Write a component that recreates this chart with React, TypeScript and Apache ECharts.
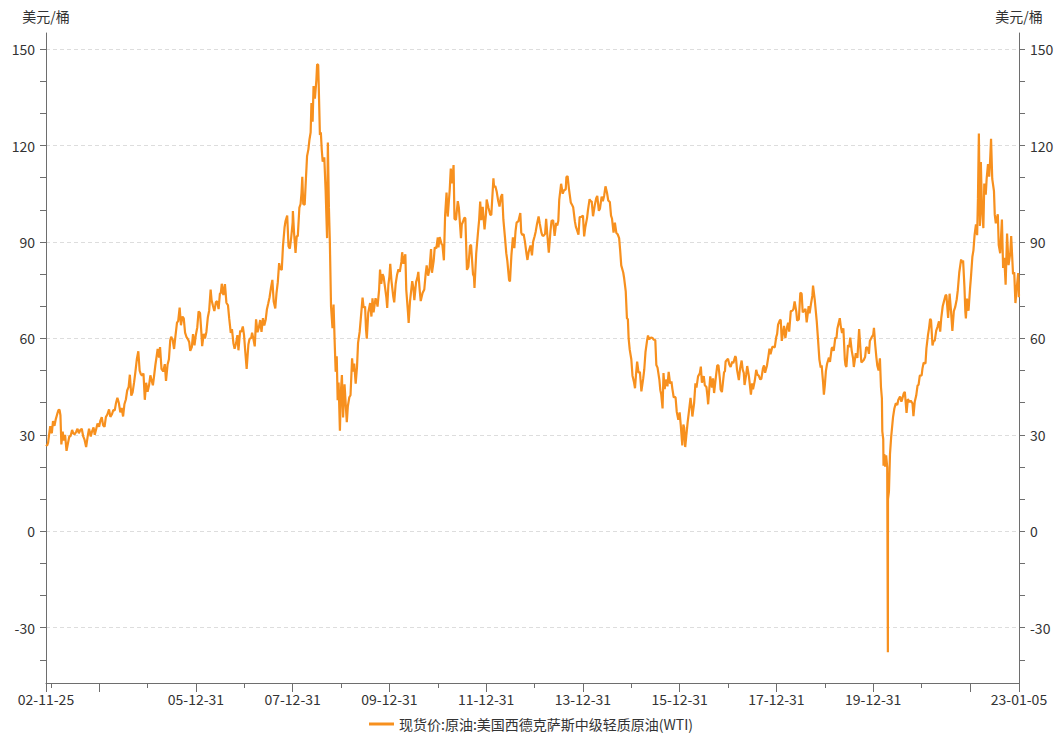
import React, { useEffect, useRef } from 'react';
import * as echarts from 'echarts';

// ---------- data (WTI spot, USD/bbl) ----------
const seriesName = '现货价:原油:美国西德克萨斯中级轻质原油(WTI)';

const wti2002: [string, number][] = [["11-25",26.9],["12-03",26.6],["12-11",27.6],["12-18",29.9],["12-27",32.7],["12-31",31.2]];
const wti2003: [string, number][] = [["01-08",30.5],["01-17",34.3],["01-28",32.8],["02-07",34.9],["02-18",36.5],["02-27",37.7],["03-07",37.8],["03-14",36.1],["03-21",27.0],["03-31",31.0],["04-08",28.2],["04-18",30.0],["04-29",25.0],["05-09",27.2],["05-20",29.5],["05-30",29.6],["06-10",31.5],["06-20",30.4],["06-30",30.2],["07-10",30.9],["07-21",31.9],["07-31",30.5],["08-11",31.5],["08-22",31.9],["09-02",29.5],["09-12",28.5],["09-24",26.2],["10-06",29.6],["10-16",31.9],["10-29",29.5],["11-07",31.0],["11-19",32.3],["11-28",30.0],["12-10",32.0],["12-19",33.5],["12-31",32.5]];
const wti2004: [string, number][] = [["01-09",34.3],["01-20",35.5],["01-30",33.0],["02-10",32.5],["02-20",35.5],["03-02",36.3],["03-15",37.9],["03-25",35.6],["04-06",36.4],["04-16",37.7],["04-27",37.6],["05-07",40.0],["05-17",41.5],["05-28",39.9],["06-08",37.0],["06-18",38.4],["06-29",35.7],["07-09",39.5],["07-20",41.0],["07-30",43.8],["08-10",44.9],["08-19",48.7],["08-30",42.2],["09-09",43.2],["09-20",46.3],["09-30",49.6],["10-11",53.6],["10-22",56.0],["11-01",50.0],["11-10",48.9],["11-19",48.4],["11-30",49.1],["12-10",40.9],["12-20",46.2],["12-31",43.4]];
const wti2005: [string, number][] = [["01-11",45.4],["01-21",48.5],["01-31",46.8],["02-09",45.4],["02-18",48.3],["02-28",51.8],["03-10",54.6],["03-17",56.7],["03-28",54.0],["04-04",57.3],["04-15",50.5],["04-28",49.7],["05-10",52.0],["05-19",46.8],["05-31",51.9],["06-10",53.5],["06-20",59.4],["06-27",60.5],["07-08",59.6],["07-19",56.7],["07-29",60.6],["08-10",64.9],["08-19",65.4],["08-30",69.6],["09-09",64.1],["09-20",66.8],["09-30",66.2],["10-10",61.8],["10-20",60.5],["10-31",59.8],["11-10",58.9],["11-18",56.1],["11-30",57.3],["12-09",61.3],["12-20",57.8],["12-30",61.0]];
const wti2006: [string, number][] = [["01-10",63.4],["01-20",68.4],["01-31",67.9],["02-10",61.8],["02-16",57.6],["02-28",61.4],["03-09",60.0],["03-20",62.0],["03-31",66.6],["04-10",68.7],["04-21",75.2],["04-28",71.9],["05-09",70.1],["05-19",68.5],["05-31",71.3],["06-09",71.6],["06-20",69.1],["06-30",73.9],["07-07",74.1],["07-14",77.0],["07-26",73.5],["08-07",76.9],["08-18",71.1],["08-30",70.3],["09-08",66.3],["09-20",61.7],["09-29",62.9],["10-10",58.5],["10-19",56.8],["10-31",58.7],["11-09",61.0],["11-17",56.3],["11-30",62.4],["12-08",62.0],["12-20",63.7],["12-29",61.1]];
const wti2007: [string, number][] = [["01-08",55.6],["01-18",50.5],["01-31",58.1],["02-09",59.9],["02-21",60.1],["02-28",61.8],["03-09",60.0],["03-20",57.5],["03-30",65.9],["04-10",61.9],["04-20",63.4],["04-30",65.7],["05-10",62.0],["05-21",66.3],["05-31",64.0],["06-11",65.9],["06-20",69.1],["06-29",70.7],["07-10",72.8],["07-20",75.6],["07-31",78.2],["08-10",71.5],["08-22",69.3],["08-31",74.0],["09-10",77.5],["09-20",83.4],["09-28",81.7],["10-10",81.3],["10-19",88.6],["10-31",94.5],["11-07",96.4],["11-20",98.2],["11-30",88.7],["12-10",87.9],["12-20",91.3],["12-31",96.0]];
const wti2008: [string, number][] = [["01-02",99.6],["01-11",92.7],["01-22",86.6],["01-31",91.8],["02-08",91.8],["02-20",100.7],["02-29",101.8],["03-07",105.2],["03-13",110.3],["03-20",101.8],["03-31",101.6],["04-08",108.5],["04-18",116.7],["04-28",118.8],["05-06",121.8],["05-15",124.1],["05-21",133.2],["05-30",127.4],["06-06",138.5],["06-16",134.6],["06-27",140.2],["07-03",145.3],["07-11",145.1],["07-15",138.7],["07-24",123.3],["07-31",124.1],["08-07",118.6],["08-14",115.0],["08-26",116.3],["09-05",106.2],["09-16",91.2],["09-22",120.9],["09-30",100.6],["10-07",90.1],["10-16",69.9],["10-27",63.2],["11-04",70.5],["11-13",58.2],["11-20",49.6],["11-28",54.4],["12-05",40.8],["12-12",46.3],["12-22",31.3],["12-26",37.7],["12-31",44.6]];
const wti2009: [string, number][] = [["01-06",48.6],["01-15",35.4],["01-26",45.7],["02-03",40.1],["02-12",33.9],["02-20",38.9],["03-03",41.7],["03-12",42.3],["03-24",53.8],["03-31",49.7],["04-09",52.2],["04-20",45.9],["04-30",51.1],["05-08",58.6],["05-20",62.0],["05-29",66.3],["06-11",72.7],["06-19",69.6],["06-30",69.9],["07-07",62.9],["07-13",59.9],["07-24",68.0],["07-31",69.5],["08-07",71.0],["08-17",66.8],["08-25",72.5],["09-02",68.1],["09-17",72.5],["09-30",70.5],["10-02",69.9],["10-14",75.2],["10-21",81.4],["10-30",77.0],["11-09",80.0],["11-17",79.1],["11-27",76.1],["12-08",72.6],["12-14",69.5],["12-23",76.7],["12-31",79.4]];
const wti2010: [string, number][] = [["01-06",83.2],["01-15",78.0],["01-29",72.9],["02-05",71.2],["02-16",77.0],["02-26",79.7],["03-09",81.5],["03-19",80.7],["03-31",83.8],["04-06",86.8],["04-16",83.2],["04-30",86.2],["05-07",75.1],["05-20",68.0],["05-25",64.8],["06-04",71.5],["06-21",77.8],["06-30",75.6],["07-07",71.9],["07-20",77.5],["07-30",78.9],["08-06",80.7],["08-16",75.2],["08-24",71.6],["09-07",74.1],["09-20",75.2],["09-30",79.9],["10-08",82.7],["10-19",79.5],["10-29",81.4],["11-10",87.8],["11-17",80.4],["11-30",84.1],["12-08",88.3],["12-20",88.0],["12-31",91.4]];
const wti2011: [string, number][] = [["01-05",88.3],["01-14",91.5],["01-28",89.4],["02-04",89.0],["02-15",84.3],["02-24",98.1],["03-07",105.4],["03-16",97.9],["03-31",106.2],["04-08",112.8],["04-19",108.2],["04-29",113.9],["05-06",97.2],["05-17",96.9],["05-31",102.7],["06-08",100.7],["06-24",91.2],["06-30",95.4],["07-08",96.2],["07-19",97.5],["07-27",97.4],["08-08",81.3],["08-19",82.3],["08-31",88.8],["09-08",89.1],["09-23",79.9],["09-30",79.2],["10-04",75.7],["10-17",86.4],["10-31",93.2],["11-08",96.8],["11-16",102.6],["11-25",96.8],["12-05",100.9],["12-19",93.9],["12-30",98.8]];
const wti2012: [string, number][] = [["01-04",103.2],["01-17",100.7],["01-31",98.5],["02-08",98.4],["02-24",109.8],["02-29",107.1],["03-09",107.4],["03-20",105.6],["03-30",103.0],["04-10",101.0],["04-20",103.9],["04-30",104.9],["05-09",97.0],["05-21",91.5],["05-31",86.5],["06-08",84.1],["06-21",78.2],["06-28",77.7],["07-09",86.0],["07-20",91.4],["07-31",88.1],["08-09",93.4],["08-17",96.0],["08-31",96.5],["09-14",99.0],["09-21",92.9],["09-28",92.2],["10-09",92.4],["10-19",90.1],["10-31",86.2],["11-07",84.4],["11-16",86.9],["11-30",88.9],["12-11",85.8],["12-20",90.1],["12-31",91.8]];
const wti2013: [string, number][] = [["01-08",93.2],["01-18",95.6],["01-30",97.9],["02-08",95.7],["02-21",92.8],["02-28",92.0],["03-08",91.9],["03-20",92.5],["03-28",97.2],["04-05",92.7],["04-17",86.7],["04-30",93.5],["05-08",96.6],["05-20",96.7],["05-31",91.9],["06-12",95.9],["06-20",95.1],["06-28",96.6],["07-05",103.2],["07-19",108.1],["07-31",105.0],["08-09",106.0],["08-23",106.4],["08-28",110.2],["09-06",110.5],["09-16",106.6],["09-30",102.3],["10-09",101.6],["10-18",100.8],["10-31",96.4],["11-08",94.6],["11-15",93.8],["11-27",92.3],["12-06",97.7],["12-18",97.8],["12-31",98.2]];
const wti2014: [string, number][] = [["01-09",91.7],["01-17",94.4],["01-31",97.5],["02-07",100.0],["02-19",103.3],["02-28",102.6],["03-07",102.6],["03-17",98.0],["03-31",101.6],["04-10",103.6],["04-18",104.3],["04-30",99.7],["05-08",100.3],["05-21",104.1],["05-30",102.7],["06-09",104.4],["06-19",107.3],["06-30",105.4],["07-10",102.9],["07-22",102.4],["07-31",98.2],["08-07",97.3],["08-19",92.9],["08-29",96.0],["09-09",92.8],["09-19",92.4],["09-30",91.2],["10-08",87.3],["10-16",82.7],["10-31",80.5],["11-07",78.7],["11-19",74.6],["11-28",66.2],["12-05",66.0],["12-11",59.9],["12-19",56.5],["12-31",53.5]];
const wti2015: [string, number][] = [["01-09",48.4],["01-20",46.4],["01-28",44.5],["02-04",48.5],["02-13",52.8],["02-24",49.3],["03-06",49.6],["03-17",43.5],["03-31",47.6],["04-08",50.4],["04-17",55.7],["04-30",59.6],["05-06",60.9],["05-15",59.7],["05-29",60.3],["06-09",60.1],["06-19",59.6],["06-30",59.5],["07-08",51.7],["07-17",50.9],["07-31",47.1],["08-07",43.9],["08-14",42.5],["08-24",38.2],["08-31",49.2],["09-09",44.2],["09-17",47.2],["09-30",45.1],["10-09",49.6],["10-20",45.9],["10-30",46.6],["11-06",44.3],["11-16",41.7],["11-30",41.7],["12-09",37.2],["12-21",34.7],["12-31",37.0]];
const wti2016: [string, number][] = [["01-08",33.2],["01-20",26.7],["01-28",33.2],["02-03",32.3],["02-11",26.2],["02-19",29.6],["02-29",33.8],["03-08",36.5],["03-22",41.5],["03-31",38.3],["04-05",35.7],["04-18",39.8],["04-28",46.0],["05-06",44.7],["05-18",48.2],["05-31",49.1],["06-08",51.2],["06-16",46.2],["06-30",48.3],["07-08",45.4],["07-20",44.9],["07-29",41.6],["08-02",39.5],["08-18",48.2],["08-31",44.7],["09-08",47.6],["09-16",43.0],["09-30",48.2],["10-10",51.6],["10-19",51.6],["10-31",46.9],["11-04",44.1],["11-14",43.3],["11-30",49.4],["12-07",49.8],["12-12",52.8],["12-30",53.7]];
const wti2017: [string, number][] = [["01-09",51.9],["01-19",51.1],["01-31",52.8],["02-08",52.3],["02-23",54.5],["02-28",54.0],["03-08",50.3],["03-22",47.0],["03-31",50.6],["04-12",53.1],["04-20",50.3],["04-28",49.3],["05-04",45.5],["05-16",48.7],["05-24",51.4],["06-06",48.2],["06-21",42.5],["06-30",46.0],["07-07",44.2],["07-20",46.8],["07-31",50.2],["08-10",48.6],["08-18",48.5],["08-31",47.2],["09-08",47.5],["09-20",50.7],["09-28",51.6],["10-06",49.3],["10-20",51.5],["10-31",54.4],["11-08",56.8],["11-16",55.1],["11-30",57.4],["12-08",57.4],["12-18",57.2],["12-29",60.4]];
const wti2018: [string, number][] = [["01-05",61.4],["01-12",64.3],["01-25",65.6],["02-01",65.8],["02-09",59.2],["02-26",63.9],["03-08",60.1],["03-20",63.4],["03-29",64.9],["04-06",62.1],["04-18",68.5],["04-30",68.6],["05-08",69.1],["05-17",71.5],["05-30",68.2],["06-05",65.5],["06-18",65.9],["06-29",74.2],["07-09",73.9],["07-17",68.1],["07-31",68.7],["08-07",69.2],["08-16",65.0],["08-31",70.0],["09-07",67.8],["09-19",71.1],["09-28",73.3],["10-03",76.4],["10-16",72.0],["10-31",65.3],["11-08",60.7],["11-20",53.4],["11-30",50.9],["12-07",51.6],["12-18",46.2],["12-24",42.5],["12-31",45.4]];
const wti2019: [string, number][] = [["01-08",49.8],["01-17",52.1],["01-31",54.0],["02-08",52.7],["02-21",57.0],["02-28",57.2],["03-08",56.1],["03-20",60.2],["03-29",60.1],["04-05",63.1],["04-23",66.3],["04-30",63.9],["05-10",61.7],["05-20",63.1],["05-31",53.5],["06-05",51.7],["06-12",51.1],["06-24",57.9],["07-03",57.3],["07-11",60.2],["07-22",56.2],["08-01",53.9],["08-07",51.1],["08-22",55.4],["09-03",53.9],["09-16",62.9],["09-30",54.1],["10-03",52.5],["10-21",53.3],["10-31",54.2],["11-08",57.2],["11-20",57.1],["11-29",55.2],["12-06",59.2],["12-20",60.4],["12-31",61.1]];
const wti2020: [string, number][] = [["01-06",63.3],["01-15",58.2],["01-24",54.2],["01-31",51.6],["02-10",50.0],["02-20",53.8],["02-28",44.8],["03-06",41.3],["03-09",31.1],["03-16",28.7],["03-18",20.4],["03-24",24.0],["03-30",20.1],["04-07",23.6],["04-15",19.9],["04-20",-37.6],["04-21",10.0],["04-28",12.3],["05-06",24.0],["05-15",29.4],["05-29",35.5],["06-08",38.2],["06-19",39.8],["06-30",39.3],["07-08",40.9],["07-21",41.9],["07-31",40.3],["08-07",41.2],["08-18",42.9],["08-26",43.4],["09-08",36.8],["09-18",41.1],["09-30",40.2],["10-09",40.6],["10-23",39.8],["10-30",35.8],["11-09",40.3],["11-20",42.2],["11-30",45.3],["12-08",45.6],["12-17",48.4],["12-31",48.5]];
const wti2021: [string, number][] = [["01-06",50.6],["01-15",52.4],["01-29",52.2],["02-05",56.9],["02-17",61.1],["02-25",63.2],["03-05",66.1],["03-12",65.6],["03-23",57.8],["03-31",59.2],["04-09",59.3],["04-20",62.4],["04-30",63.6],["05-11",65.3],["05-20",62.1],["05-28",66.3],["06-08",70.0],["06-18",71.6],["06-30",73.5],["07-06",73.4],["07-19",66.4],["07-30",73.9],["08-10",68.3],["08-20",62.3],["08-31",68.5],["09-10",69.7],["09-22",72.2],["09-30",75.0],["10-11",80.5],["10-25",84.6],["10-29",83.6],["11-09",84.2],["11-19",76.1],["11-26",68.2],["11-30",66.2],["12-08",72.4],["12-20",68.6],["12-31",75.3]];
const wti2022: [string, number][] = [["01-07",78.9],["01-18",85.4],["01-26",87.4],["02-04",92.3],["02-14",95.5],["02-23",92.1],["03-01",103.4],["03-08",123.7],["03-16",95.0],["03-23",114.9],["03-31",100.3],["04-11",94.3],["04-18",108.2],["04-29",104.7],["05-06",109.8],["05-16",114.2],["05-25",110.3],["06-01",115.3],["06-08",122.1],["06-17",109.6],["06-30",105.8],["07-06",98.5],["07-14",95.8],["07-29",98.6],["08-05",89.0],["08-16",86.5],["08-29",97.0],["09-07",81.9],["09-16",85.1],["09-26",76.7],["10-07",92.6],["10-18",82.8],["10-31",86.5],["11-07",91.8],["11-21",80.0],["11-30",80.6],["12-09",71.0],["12-20",76.2],["12-30",80.3]];
const wti2023: [string, number][] = [["01-03",76.9],["01-04",72.8],["01-05",73.7]];

const yearly: [number, [string, number][]][] = [
  [2002, wti2002], [2003, wti2003], [2004, wti2004], [2005, wti2005], [2006, wti2006],
  [2007, wti2007], [2008, wti2008], [2009, wti2009], [2010, wti2010], [2011, wti2011],
  [2012, wti2012], [2013, wti2013], [2014, wti2014], [2015, wti2015], [2016, wti2016],
  [2017, wti2017], [2018, wti2018], [2019, wti2019], [2020, wti2020], [2021, wti2021],
  [2022, wti2022], [2023, wti2023],
];

// axis ticks / labels
const xStart = '2002-11-25';
const xEnd = '2023-01-05';
const xLabelDates = ['2002-11-25', '2005-12-31', '2007-12-31', '2009-12-31', '2011-12-31', '2013-12-31', '2015-12-31', '2017-12-31', '2019-12-31', '2023-01-05'];
const xMajorTickDates = ['2002-11-25', '2003-12-31', '2005-12-31', '2007-12-31', '2009-12-31', '2011-12-31', '2013-12-31', '2015-12-31', '2017-12-31', '2019-12-31', '2021-12-31', '2023-01-05'];
const xMinorTickDates = ['2002-12-31', '2004-12-31', '2006-12-31', '2008-12-31', '2010-12-31', '2012-12-31', '2014-12-31', '2016-12-31', '2018-12-31', '2020-12-31'];
const yTickValues = [-40, -30, -20, -10, 0, 10, 20, 30, 40, 50, 60, 70, 80, 90, 100, 110, 120, 130, 140, 150];
const yLabelValues = [-30, 0, 30, 60, 90, 120, 150];
const yMin = -47.2;
const yMax = 155;
const unitName = '美元/桶';

const toTime = (s: string) => {
  const [y, m, d] = s.split('-').map(Number);
  return new Date(y, m - 1, d).getTime();
};
const pad = (n: number) => String(n).padStart(2, '0');
const fmtDate = (v: number) => {
  const d = new Date(Math.round(v));
  return `${pad(d.getFullYear() % 100)}-${pad(d.getMonth() + 1)}-${pad(d.getDate())}`;
};

export default function App() {
  const ref = useRef<HTMLDivElement>(null);

  useEffect(() => {
    if (!ref.current) return;
    const chart = echarts.init(ref.current, undefined, { renderer: 'svg' });

    const data: [number, number][] = [];
    yearly.forEach(([yr, arr]) => {
      arr.forEach(([md, v]) => data.push([toTime(`${yr}-${md}`), v]));
    });

    const font = "'Microsoft YaHei','Noto Sans CJK SC','Noto Sans',sans-serif";
    const axisColor = '#6E6E6E';
    const textColor = '#333333';
    const lineColor = '#F7901E';
    const xMin = toTime(xStart);
    const xMax = toTime(xEnd);

    const yBase = {
      type: 'value',
      min: yMin,
      max: yMax,
      name: unitName,
      nameLocation: 'end',
      nameGap: 10,
      nameTextStyle: { color: textColor, fontSize: 14, fontFamily: font },
      axisLine: { show: true, onZero: false, lineStyle: { color: axisColor, width: 1 } },
      axisTick: { show: true, customValues: yTickValues, length: 6, lineStyle: { color: axisColor } },
      axisLabel: { customValues: yLabelValues, color: textColor, fontSize: 14, margin: 11, fontFamily: font },
      splitLine: { show: false },
    };

    chart.setOption({
      animation: false,
      textStyle: { fontFamily: font },
      grid: { left: 46, right: 43, top: 33, bottom: 59, outerBoundsMode: 'none' },
      legend: {
        bottom: 6,
        left: 'center',
        icon: 'rect',
        itemWidth: 25,
        itemHeight: 3,
        itemGap: 10,
        data: [seriesName],
        textStyle: { fontSize: 14, color: textColor, fontFamily: font },
      },
      xAxis: [
        {
          type: 'value',
          min: xMin,
          max: xMax,
          scale: true,
          position: 'bottom',
          axisLine: { show: true, onZero: false, lineStyle: { color: axisColor } },
          axisTick: { show: true, customValues: xMajorTickDates.map(toTime), length: 9, lineStyle: { color: axisColor } },
          axisLabel: {
            customValues: xLabelDates.map(toTime),
            formatter: (v: number) => fmtDate(v),
            color: textColor,
            fontSize: 14,
            margin: 9,
            hideOverlap: false,
            fontFamily: font,
          },
          splitLine: { show: false },
        },
        {
          type: 'value',
          min: xMin,
          max: xMax,
          scale: true,
          position: 'bottom',
          axisLine: { show: false, onZero: false },
          axisTick: { show: true, customValues: xMinorTickDates.map(toTime), length: 5, lineStyle: { color: axisColor } },
          axisLabel: { show: false },
          splitLine: { show: false },
        },
      ],
      yAxis: [
        { ...yBase, position: 'left' },
        { ...yBase, position: 'right' },
        {
          type: 'value',
          min: yMin,
          max: yMax,
          position: 'left',
          axisLine: { show: false },
          axisTick: { show: false, customValues: yLabelValues },
          axisLabel: { show: false },
          splitLine: { show: true, lineStyle: { type: [4, 3], color: '#DDDDDD', width: 1 } },
        },
      ],
      series: [
        {
          name: seriesName,
          type: 'line',
          xAxisIndex: 0,
          yAxisIndex: 0,
          data,
          symbol: 'none',
          showSymbol: false,
          lineStyle: { color: lineColor, width: 2.2 },
          itemStyle: { color: lineColor },
        },
      ],
    });

    return () => chart.dispose();
  }, []);

  return (
    <div
      ref={ref}
      style={{ position: 'fixed', left: 0, top: 0, width: 1062, height: 742, background: '#fff' }}
    />
  );
}
